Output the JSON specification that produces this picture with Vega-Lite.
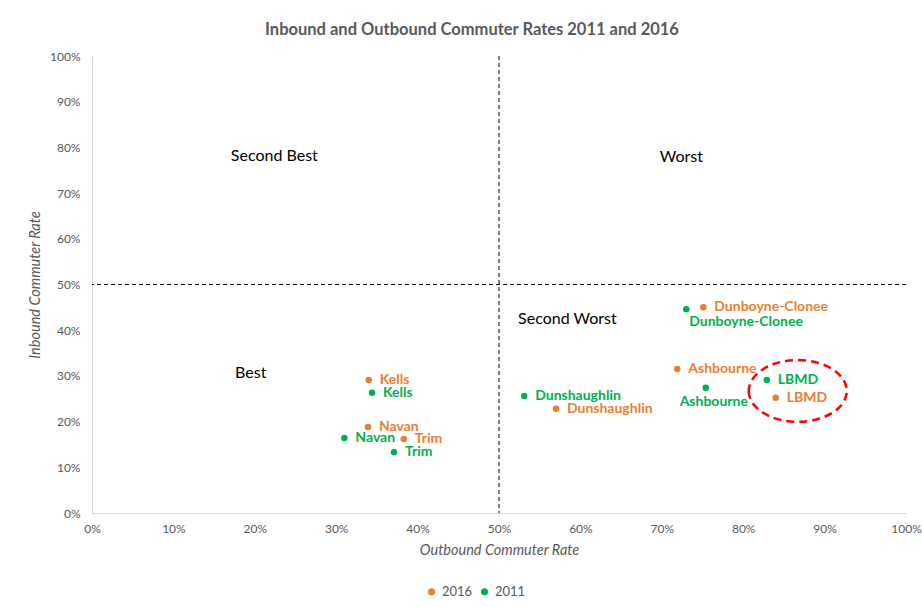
{
  "$schema": "https://vega.github.io/schema/vega-lite/v6.json",
  "width": 814,
  "height": 457,
  "autosize": {"type": "none"},
  "padding": {"left": 92, "top": 56, "right": 16, "bottom": 94},
  "background": "white",
  "config": {
    "view": {"stroke": null},
    "font": "Lato",
    "axis": {"labelFont": "Lato", "titleFont": "Lato"}
  },
  "title": {
    "text": "Inbound and Outbound Commuter Rates 2011 and 2016",
    "font": "Lato",
    "fontSize": 16.5,
    "fontWeight": "bold",
    "color": "#595959",
    "anchor": "middle",
    "dx": -27,
    "offset": 12
  },
  "datasets": {
    "towns": [
      {"town": "Kells", "year": "2016", "outbound": 0.340, "inbound": 0.291},
      {"town": "Kells", "year": "2011", "outbound": 0.344, "inbound": 0.263},
      {"town": "Navan", "year": "2016", "outbound": 0.339, "inbound": 0.188},
      {"town": "Navan", "year": "2011", "outbound": 0.310, "inbound": 0.164},
      {"town": "Trim", "year": "2016", "outbound": 0.383, "inbound": 0.162},
      {"town": "Trim", "year": "2011", "outbound": 0.371, "inbound": 0.133},
      {"town": "Dunshaughlin", "year": "2011", "outbound": 0.531, "inbound": 0.256},
      {"town": "Dunshaughlin", "year": "2016", "outbound": 0.570, "inbound": 0.228},
      {"town": "Dunboyne-Clonee", "year": "2011", "outbound": 0.730, "inbound": 0.446},
      {"town": "Dunboyne-Clonee", "year": "2016", "outbound": 0.751, "inbound": 0.450},
      {"town": "Ashbourne", "year": "2016", "outbound": 0.719, "inbound": 0.315},
      {"town": "Ashbourne", "year": "2011", "outbound": 0.754, "inbound": 0.274},
      {"town": "LBMD", "year": "2011", "outbound": 0.829, "inbound": 0.291},
      {"town": "LBMD", "year": "2016", "outbound": 0.840, "inbound": 0.252}
    ],
    "quadrants": [
      {"label": "Second Best", "outbound": 0.224, "inbound": 0.781},
      {"label": "Worst", "outbound": 0.724, "inbound": 0.780},
      {"label": "Second Worst", "outbound": 0.584, "inbound": 0.424},
      {"label": "Best", "outbound": 0.195, "inbound": 0.306}
    ],
    "highlight": [
      {"town": "LBMD", "outbound": 0.867, "inbound": 0.267}
    ],
    "dividers": [
      {"outbound": 0.5, "inbound": 0.5}
    ]
  },
  "layer": [
    {
      "data": {"name": "dividers"},
      "mark": {"type": "rule", "color": "#000000", "strokeDash": [4, 3], "strokeWidth": 1},
      "encoding": {"x": {"field": "outbound", "type": "quantitative"}}
    },
    {
      "data": {"name": "dividers"},
      "mark": {"type": "rule", "color": "#000000", "strokeDash": [4, 3], "strokeWidth": 1},
      "encoding": {"y": {"field": "inbound", "type": "quantitative"}}
    },
    {
      "data": {"name": "quadrants"},
      "mark": {"type": "text", "fontSize": 16, "font": "Lato", "color": "#000000", "align": "center", "baseline": "middle"},
      "encoding": {
        "x": {"field": "outbound", "type": "quantitative"},
        "y": {"field": "inbound", "type": "quantitative"},
        "text": {"field": "label"}
      }
    },
    {
      "data": {"name": "towns"},
      "mark": {"type": "point", "filled": true, "shape": "circle", "size": 42, "opacity": 1},
      "encoding": {
        "x": {
          "field": "outbound", "type": "quantitative",
          "scale": {"domain": [0, 1], "nice": false, "zero": true},
          "axis": {
            "title": "Outbound Commuter Rate",
            "titleFontStyle": "italic", "titleFontWeight": "normal", "titleFontSize": 14.5, "titleColor": "#595959",
            "titlePadding": 9,
            "format": ".0%", "values": [0,0.1,0.2,0.3,0.4,0.5,0.6,0.7,0.8,0.9,1],
            "labelFontSize": 12, "labelColor": "#595959", "labelPadding": 10,
            "ticks": false, "grid": false, "domainColor": "#D9D9D9", "domainWidth": 1.2,
            "labelFlush": false
          }
        },
        "y": {
          "field": "inbound", "type": "quantitative",
          "scale": {"domain": [0, 1], "nice": false, "zero": true},
          "axis": {
            "title": "Inbound Commuter Rate",
            "titleFontStyle": "italic", "titleFontWeight": "normal", "titleFontSize": 14.5, "titleColor": "#595959",
            "titlePadding": 7,
            "format": ".0%", "values": [0,0.1,0.2,0.3,0.4,0.5,0.6,0.7,0.8,0.9,1],
            "labelFontSize": 12, "labelColor": "#595959", "labelPadding": 12,
            "ticks": false, "grid": false, "domainColor": "#D9D9D9", "domainWidth": 1.2,
            "labelFlush": false
          }
        },
        "color": {
          "field": "year", "type": "nominal",
          "scale": {"domain": ["2016", "2011"], "range": ["#ED7D31", "#00B050"]},
          "legend": {
            "title": null, "orient": "none", "direction": "horizontal",
            "legendX": 333, "legendY": 529,
            "symbolType": "circle", "symbolSize": 50,
            "labelFontSize": 13, "labelColor": "#595959", "labelFont": "Lato",
            "columnPadding": 5, "labelOffset": 4
          }
        }
      }
    },
    {
      "data": {"name": "towns"},
      "transform": [{"filter": "!(datum.year == '2011' && (datum.town == 'Dunboyne-Clonee' || datum.town == 'Ashbourne'))"}],
      "mark": {"type": "text", "align": "left", "baseline": "middle", "dx": 11, "fontSize": 14, "fontWeight": "bold", "font": "Lato"},
      "encoding": {
        "x": {"field": "outbound", "type": "quantitative"},
        "y": {"field": "inbound", "type": "quantitative"},
        "text": {"field": "town"},
        "color": {"field": "year", "type": "nominal", "legend": null}
      }
    },
    {
      "data": {"name": "towns"},
      "transform": [{"filter": "datum.year == '2011' && datum.town == 'Dunboyne-Clonee'"}],
      "mark": {"type": "text", "align": "left", "baseline": "middle", "dx": 3, "dy": 13, "fontSize": 14, "fontWeight": "bold", "font": "Lato"},
      "encoding": {
        "x": {"field": "outbound", "type": "quantitative"},
        "y": {"field": "inbound", "type": "quantitative"},
        "text": {"field": "town"},
        "color": {"field": "year", "type": "nominal", "legend": null}
      }
    },
    {
      "data": {"name": "towns"},
      "transform": [{"filter": "datum.year == '2011' && datum.town == 'Ashbourne'"}],
      "mark": {"type": "text", "align": "center", "baseline": "middle", "dx": 8, "dy": 14, "fontSize": 14, "fontWeight": "bold", "font": "Lato"},
      "encoding": {
        "x": {"field": "outbound", "type": "quantitative"},
        "y": {"field": "inbound", "type": "quantitative"},
        "text": {"field": "town"},
        "color": {"field": "year", "type": "nominal", "legend": null}
      }
    },
    {
      "data": {"name": "highlight"},
      "mark": {
        "type": "point",
        "shape": "M -1 0 A 1 0.63 0 1 0 1 0 A 1 0.63 0 1 0 -1 0 Z",
        "size": 9604,
        "filled": false,
        "stroke": "#FF0000",
        "strokeWidth": 2.5,
        "strokeDash": [8, 5],
        "opacity": 1
      },
      "encoding": {
        "x": {"field": "outbound", "type": "quantitative"},
        "y": {"field": "inbound", "type": "quantitative"}
      }
    }
  ]
}
